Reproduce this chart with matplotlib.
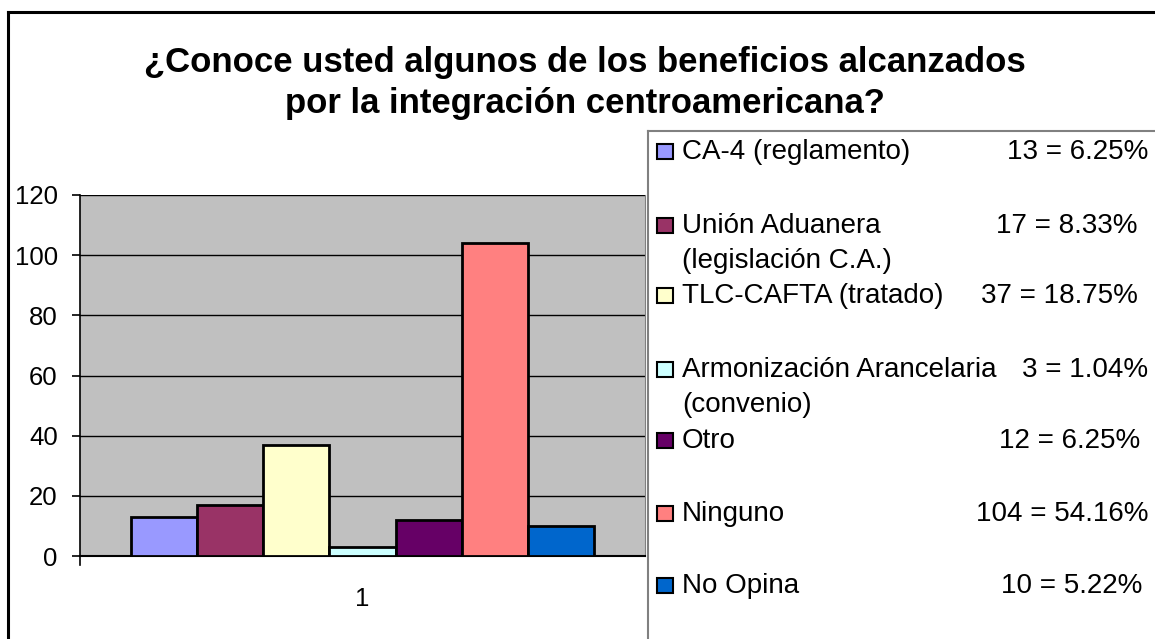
import matplotlib.pyplot as plt
from matplotlib.patches import Rectangle
from matplotlib.lines import Line2D

# Data
categories = ['CA-4 (reglamento)', 'Unión Aduanera\n(legislación C.A.)', 'TLC-CAFTA (tratado)',
              'Armonización Arancelaria\n(convenio)', 'Otro', 'Ninguno', 'No Opina']
counts = [13, 17, 37, 3, 12, 104, 10]
pct_labels = ['6.25%', '8.33%', '18.75%', '1.04%', '6.25%', '54.16%', '5.22%']
colors = ['#9999FF', '#993366', '#FFFFCC', '#CCFFFF', '#660066', '#FF8080', '#0066CC']
yticks = [0, 20, 40, 60, 80, 100, 120]

plt.rcParams['font.family'] = ['Liberation Sans', 'DejaVu Sans']

W, H = 1155, 639
fig = plt.figure(figsize=(W / 100, H / 100), dpi=100)

def fx(px):
    return px / W

def fy(py):
    return 1 - py / H

# outer chart frame
fig.add_artist(Line2D([fx(8), fx(8)], [0, fy(12)], color='black', lw=2.2, transform=fig.transFigure))
fig.add_artist(Line2D([fx(8), 1], [fy(12), fy(12)], color='black', lw=2.2, transform=fig.transFigure))

# title
fig.text(fx(585), fy(83), '¿Conoce usted algunos de los beneficios alcanzados\npor la integración centroamericana?',
         ha='center', va='center', fontsize=25, fontweight='bold', linespacing=1.3)

# plot area
ax = fig.add_axes([fx(80), fy(556), fx(565), 361 / H])
ax.set_facecolor('#C0C0C0')
n = len(counts)
bw = 0.82 / n
for i, (v, c) in enumerate(zip(counts, colors)):
    x = -0.41 + bw * (i + 0.5)
    ax.bar(x, v, width=bw, color=c, edgecolor='black', linewidth=2, zorder=3)
ax.set_xlim(-0.5, 0.5)
ax.set_ylim(0, 120)
ax.set_yticks(yticks)
ax.set_yticklabels([str(t) for t in yticks], fontsize=18.5)
ax.set_xticks([0])
ax.set_xticklabels(['1'], fontsize=18.5)
ax.tick_params(axis='x', length=0, pad=22)
ax.tick_params(axis='y', length=6, width=1.2, pad=10, direction='out')
ax.yaxis.grid(True, color='black', linewidth=1, zorder=1)
ax.set_axisbelow(True)
ax.spines['top'].set_visible(False)
ax.spines['right'].set_color('#808080')
ax.spines['left'].set_linewidth(1.2)
ax.spines['bottom'].set_linewidth(1.5)
# small tick below the axis corner
fig.add_artist(Line2D([fx(80), fx(80)], [fy(556), fy(565)], color='black', lw=1.2, transform=fig.transFigure))

# legend box
fig.add_artist(Line2D([fx(648), fx(648)], [0, fy(131)], color='#808080', lw=1.5, transform=fig.transFigure))
fig.add_artist(Line2D([fx(648), 1], [fy(131), fy(131)], color='#808080', lw=1.5, transform=fig.transFigure))

row_base = [159, 233, 303, 377, 448, 521, 593]
val_right = [1148, 1138, 1138, 1148, 1140, 1148, 1142]
for lab, cnt, pct, c, yb, xr in zip(categories, counts, pct_labels, colors, row_base, val_right):
    fig.add_artist(Rectangle((fx(657), fy(yb)), fx(16), 15 / H, facecolor=c,
                             edgecolor='black', linewidth=1.5, transform=fig.transFigure))
    for k, line in enumerate(lab.split('\n')):
        fig.text(fx(682), fy(yb + 35 * k), line, ha='left', va='baseline', fontsize=20)
    fig.text(fx(xr), fy(yb), f'{cnt} = {pct}', ha='right', va='baseline', fontsize=20)

fig.savefig('out.png', dpi=100, facecolor='white')
